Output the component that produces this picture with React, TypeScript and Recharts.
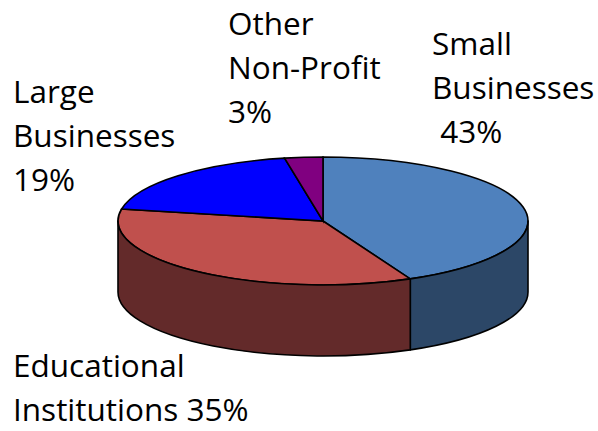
import { PieChart, Pie, Cell } from 'recharts';

// slices, clockwise from 12 o'clock
const segments = ['Small Businesses', 'Educational Institutions', 'Large Businesses', 'Other Non-Profit'];
const shares = [43, 35, 19, 3];
// how each label is broken into lines ({p} = percent)
const labelLines = [
  ['Small', 'Businesses', ' {p}'],
  ['Educational', 'Institutions {p}'],
  ['Large', 'Businesses', '{p}'],
  ['Other', 'Non-Profit', '{p}'],
];

const TOP_COLORS = ['#4f81bd', '#c0504d', '#0000ff', '#800080'];
const WALL_COLORS = ['#2c4767', '#632a2a', '#00008f', '#480048'];
const LABEL_POS = [
  { x: 432, y: 55 },
  { x: 13, y: 377 },
  { x: 13, y: 103 },
  { x: 228, y: 35 },
];

const W = 598;
const H = 431;
const CX = 323;
const CY = 221;
const RX = 205;
const RY = 64;
const DEPTH = 71;
const K = RY / RX;
const LINE_H = 44;
const FONT = '"Open Sans", sans-serif';

const data = segments.map((name, i) => ({ name, value: shares[i] }));

// side wall of the disc, only the front half (angles -180..0) is visible
const renderWall = (props: any) => {
  const { cx, cy, outerRadius, startAngle, endAngle, index } = props;
  const lo = Math.min(startAngle, endAngle);
  const hi = Math.max(startAngle, endAngle);
  const ry = outerRadius * K;
  const pt = (deg: number, dy: number) => {
    const r = (deg * Math.PI) / 180;
    return `${cx + outerRadius * Math.cos(r)},${cy - ry * Math.sin(r) + dy}`;
  };
  const paths: string[] = [];
  for (let k = -1; k <= 1; k++) {
    const a = Math.max(lo, -180 + 360 * k);
    const b = Math.min(hi, 360 * k);
    if (b <= a) continue;
    paths.push(
      `M${pt(a, 0)} A${outerRadius},${ry} 0 0 0 ${pt(b, 0)} L${pt(b, DEPTH)} A${outerRadius},${ry} 0 0 1 ${pt(a, DEPTH)} Z`
    );
  }
  return (
    <g key={`wall-${index}`}>
      {paths.map((d, j) => (
        <path
          key={j}
          className="wall"
          d={d}
          fill={WALL_COLORS[index]}
          stroke="#000"
          strokeWidth={1.6}
          strokeLinejoin="round"
        />
      ))}
    </g>
  );
};

const renderLabel = (props: any) => {
  const { index, percent } = props;
  const pos = LABEL_POS[index];
  const p = `${Math.round(percent * 100)}%`;
  return (
    <text
      key={`lbl-${index}`}
      x={pos.x}
      y={pos.y}
      fill="#000"
      fontSize={31.5}
      fontFamily={FONT}
      style={{ whiteSpace: 'pre' }}
    >
      {labelLines[index].map((line, j) => (
        <tspan key={j} x={pos.x} y={pos.y + j * LINE_H}>
          {line.replace('{p}', p)}
        </tspan>
      ))}
    </text>
  );
};

export default function App() {
  return (
    <div style={{ width: W, height: H, position: 'relative', background: '#fff' }}>
      <style>{`
        body { margin: 0; }
        .pie-top path.recharts-sector {
          transform: matrix(1, 0, 0, ${K}, 0, ${CY * (1 - K)});
          vector-effect: non-scaling-stroke;
        }
      `}</style>
      <PieChart width={W} height={H} margin={{ top: 0, right: 0, bottom: 0, left: 0 }}>
        <Pie
          data={data}
          dataKey="value"
          nameKey="name"
          cx={CX}
          cy={CY}
          outerRadius={RX}
          startAngle={90}
          endAngle={-270}
          fill="none"
          stroke="none"
          label={renderWall}
          labelLine={false}
          isAnimationActive={false}
        />
        <Pie
          className="pie-top"
          data={data}
          dataKey="value"
          nameKey="name"
          cx={CX}
          cy={CY}
          outerRadius={RX}
          startAngle={90}
          endAngle={-270}
          stroke="#000"
          strokeWidth={1.6}
          label={renderLabel}
          labelLine={false}
          isAnimationActive={false}
        >
          {data.map((d, i) => (
            <Cell key={d.name} fill={TOP_COLORS[i]} />
          ))}
        </Pie>
      </PieChart>
    </div>
  );
}
